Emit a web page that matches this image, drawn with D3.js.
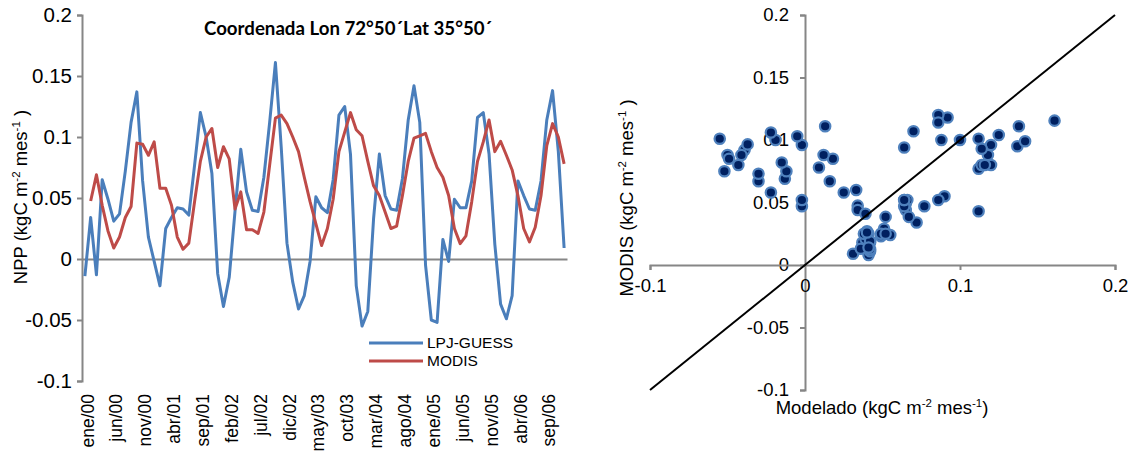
<!DOCTYPE html>
<html><head><meta charset="utf-8">
<script src="https://cdn.jsdelivr.net/npm/d3@7"></script>
<style>
body{margin:0;background:#fff}
svg text{font-family:"Liberation Sans",Arial,sans-serif;fill:#000}
</style>
</head><body>
<svg id="c" width="1136" height="452"></svg>
<script>
// ---------- DATA ----------
const categories = [
"ene/00","feb/00","mar/00","abr/00","may/00","jun/00","jul/00","ago/00","sep/00","oct/00","nov/00","dic/00",
"ene/01","feb/01","mar/01","abr/01","may/01","jun/01","jul/01","ago/01","sep/01","oct/01","nov/01","dic/01",
"ene/02","feb/02","mar/02","abr/02","may/02","jun/02","jul/02","ago/02","sep/02","oct/02","nov/02","dic/02",
"ene/03","feb/03","mar/03","abr/03","may/03","jun/03","jul/03","ago/03","sep/03","oct/03","nov/03","dic/03",
"ene/04","feb/04","mar/04","abr/04","may/04","jun/04","jul/04","ago/04","sep/04","oct/04","nov/04","dic/04",
"ene/05","feb/05","mar/05","abr/05","may/05","jun/05","jul/05","ago/05","sep/05","oct/05","nov/05","dic/05",
"ene/06","feb/06","mar/06","abr/06","may/06","jun/06","jul/06","ago/06","sep/06","oct/06","nov/06","dic/06"];

const lpjGuess = [
-0.014,0.034,-0.013,0.065,0.049,0.031,0.037,0.072,0.112,0.137,0.064,0.018,
-0.002,-0.022,0.025,0.034,0.042,0.041,0.036,0.077,0.120,0.100,0.070,-0.012,
-0.039,-0.015,0.039,0.090,0.055,0.040,0.039,0.067,0.112,0.161,0.092,0.013,
-0.019,-0.041,-0.030,-0.002,0.051,0.042,0.038,0.065,0.118,0.125,0.086,-0.022,
-0.055,-0.043,0.033,0.086,0.052,0.041,0.040,0.066,0.114,0.142,0.112,-0.005,
-0.050,-0.052,0.016,-0.002,0.049,0.042,0.042,0.064,0.116,0.120,0.086,0.012,
-0.037,-0.049,-0.030,0.064,0.052,0.041,0.040,0.064,0.114,0.138,0.088,0.009];

const modis = [
null,0.0475,0.069,0.044,0.023,0.009,0.018,0.034,0.043,0.095,0.094,0.085,
0.096,0.058,0.058,0.044,0.018,0.008,0.013,0.047,0.080,0.100,0.107,0.075,
0.092,0.082,0.041,0.055,0.024,0.024,0.021,0.0385,0.077,0.1155,0.118,0.111,
0.100,0.088,0.067,0.047,0.029,0.011,0.025,0.049,0.088,0.104,0.120,0.106,
0.101,0.080,0.060,0.052,0.0385,0.025,0.027,0.052,0.080,0.099,0.101,0.103,
0.088,0.075,0.067,0.052,0.025,0.0126,0.019,0.047,0.080,0.096,0.114,0.088,
0.0965,0.085,0.073,0.052,0.025,0.014,0.026,0.052,0.093,0.111,0.100,0.078];

const seriesNames = ["LPJ-GUESS","MODIS"];
const leftYTicks = [-0.1,-0.05,0,0.05,0.1,0.15,0.2];
const leftYTickLabels = ["-0.1","-0.05","0","0.05","0.1","0.15","0.2"];
const xLabelEvery = 5;
const scatterXTicks = [-0.1,0,0.1,0.2];
const scatterXTickLabels = ["-0.1","0","0.1","0.2"];
const scatterYTicks = [-0.1,-0.05,0,0.05,0.1,0.15,0.2];
const scatterYTickLabels = ["-0.1","-0.05","0","0.05","0.1","0.15","0.2"];
const identityLine = [-0.1,0.2];
const chartTitle = "Coordenada Lon 72°50´Lat 35°50´";

// ---------- STYLE ----------
const gray = "#868686";
const blue = "#4a7ebb";
const red = "#be4b48";
const svg = d3.select("#c");

function styleAxis(g){
  g.select(".domain").attr("stroke",gray).attr("stroke-width",2);
  g.selectAll(".tick line").attr("stroke",gray).attr("stroke-width",2);
  g.selectAll(".tick text").attr("font-family","Liberation Sans, Arial, sans-serif").attr("fill","#000");
}
function unitTitle(sel, fs, pre, post){
  const up = 0.38*fs, small = 0.62*fs;
  sel.attr("font-size",fs);
  sel.append("tspan").text(pre);
  sel.append("tspan").attr("font-size",small).attr("dy",-up).text("-2");
  sel.append("tspan").attr("dy",up).text(" mes");
  sel.append("tspan").attr("font-size",small).attr("dy",-up).text("-1");
  sel.append("tspan").attr("dy",up).text(post);
}

// ---------- LEFT: time series ----------
const L = {left:82, right:567, top:15, bottom:381};
const x1 = d3.scaleBand().domain(d3.range(categories.length)).range([L.left, L.right]);
const cx = i => x1(i) + x1.bandwidth()/2;
const y1 = d3.scaleLinear().domain([-0.1,0.2]).range([L.bottom, L.top]);

const gy1 = svg.append("g").attr("transform",`translate(${L.left},0)`)
  .call(d3.axisLeft(y1).tickValues(leftYTicks)
    .tickFormat(d => leftYTickLabels[leftYTicks.indexOf(d)])
    .tickSize(5).tickPadding(5));
styleAxis(gy1);
gy1.selectAll(".tick text").attr("font-size",20.5);

// category axis along zero
const gx1 = svg.append("g").attr("transform",`translate(0,${y1(0)})`)
  .call(d3.axisBottom(x1).tickValues([]).tickSizeOuter(0));
styleAxis(gx1);

// category labels (rotated) placed under the plot
svg.append("g").selectAll("text")
  .data(categories.map((c,i)=>({c,i})).filter(d => d.i % xLabelEvery === 0))
  .join("text")
  .attr("transform", d => `translate(${cx(d.i)+2.5},${L.bottom+13}) rotate(-90)`)
  .attr("text-anchor","end").attr("dy","0.35em")
  .attr("font-size",17.5)
  .text(d => d.c);

const line = d3.line().defined(d => d != null).x((d,i)=>cx(i)).y(d=>y1(d));
svg.append("path").datum(lpjGuess).attr("d",line)
  .attr("fill","none").attr("stroke",blue).attr("stroke-width",3).attr("stroke-linejoin","round");
svg.append("path").datum(modis).attr("d",line)
  .attr("fill","none").attr("stroke",red).attr("stroke-width",3).attr("stroke-linejoin","round");

// title
svg.append("text").attr("x",348).attr("y",35).attr("text-anchor","middle")
  .style("font-family","Lato, 'Open Sans', sans-serif")
  .attr("font-weight","bold").attr("font-size",18.5)
  .attr("textLength",288).attr("lengthAdjust","spacingAndGlyphs")
  .text(chartTitle);

// y title
const yt1 = svg.append("text").attr("transform","translate(27,197) rotate(-90)")
  .attr("text-anchor","middle");
unitTitle(yt1, 18.5, "NPP (kgC m", " )");

// legend
const legend = svg.append("g");
[[seriesNames[0],blue],[seriesNames[1],red]].forEach(([name,col],k)=>{
  const yy = 343 + k*18;
  legend.append("line").attr("x1",369).attr("x2",423).attr("y1",yy).attr("y2",yy)
    .attr("stroke",col).attr("stroke-width",3);
  legend.append("text").attr("x",427).attr("y",yy).attr("dy","0.35em")
    .attr("font-size",15.5).text(name);
});

// ---------- RIGHT: scatter ----------
const R = {left:650, right:1115, top:15, bottom:390};
const x2 = d3.scaleLinear().domain([-0.1,0.2]).range([R.left, R.right]);
const y2 = d3.scaleLinear().domain([-0.1,0.2]).range([R.bottom, R.top]);

const gy2 = svg.append("g").attr("transform",`translate(${x2(0)},0)`)
  .call(d3.axisLeft(y2).tickValues(scatterYTicks)
    .tickFormat(d => scatterYTickLabels[scatterYTicks.indexOf(d)])
    .tickSize(5).tickPadding(11).tickSizeOuter(5));
styleAxis(gy2);
gy2.selectAll(".tick text").attr("font-size",18.5);

const gx2 = svg.append("g").attr("transform",`translate(0,${y2(0)})`)
  .call(d3.axisBottom(x2).tickValues(scatterXTicks)
    .tickFormat(d => scatterXTickLabels[scatterXTicks.indexOf(d)])
    .tickSize(5).tickPadding(9));
styleAxis(gx2);
gx2.selectAll(".tick text").attr("font-size",18.5);
gx2.selectAll(".tick").filter(d => d === 0).select("line").remove();

const pairs = lpjGuess.map((v,i)=>[v, modis[i]]).filter(p => p[1] != null);
svg.append("g").selectAll("circle").data(pairs).join("circle")
  .attr("cx", d => x2(d[0])).attr("cy", d => y2(d[1])).attr("r",5.2)
  .attr("fill","#002060").attr("stroke","#4f81bd").attr("stroke-width",2.2);

svg.append("line")
  .attr("x1",x2(identityLine[0])).attr("y1",y2(identityLine[0]))
  .attr("x2",x2(identityLine[1])).attr("y2",y2(identityLine[1]))
  .attr("stroke","#000").attr("stroke-width",2);

const yt2 = svg.append("text").attr("transform","translate(633,198) rotate(-90)")
  .attr("text-anchor","middle");
unitTitle(yt2, 18.5, "MODIS (kgC m", " )");

const xt2 = svg.append("text").attr("x",882).attr("y",414)
  .attr("text-anchor","middle");
unitTitle(xt2, 18.5, "Modelado (kgC m", ")");
</script>
</body></html>
